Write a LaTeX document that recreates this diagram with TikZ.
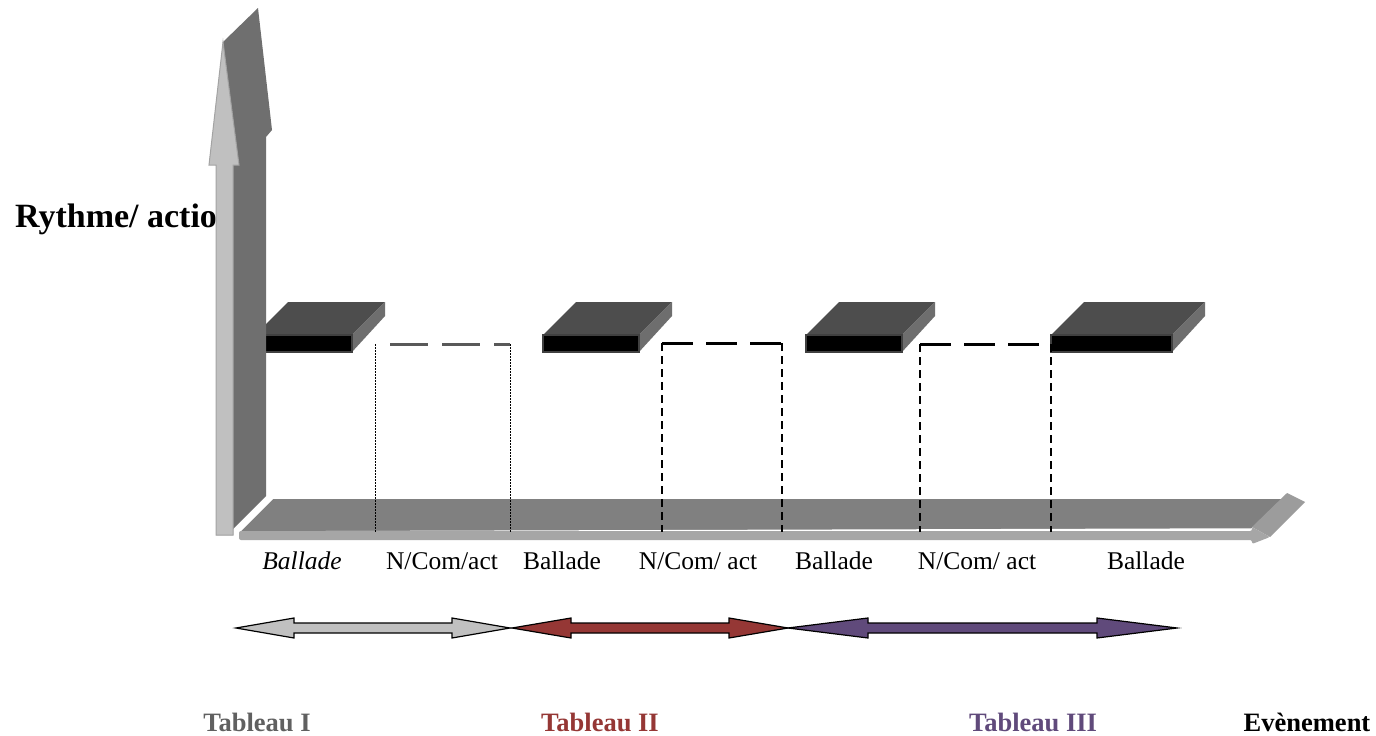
\documentclass[tikz,border=0pt]{standalone}
\usepackage{fontspec}
\setmainfont{Liberation Serif}
\definecolor{barlight}{HTML}{C0C0C0}
\definecolor{baredge}{HTML}{A3A3A3}
\definecolor{bardark}{HTML}{6F6F6F}
\definecolor{floorgray}{HTML}{808080}
\definecolor{stripgray}{HTML}{A6A6A6}
\definecolor{headgray}{HTML}{9C9C9C}
\definecolor{slabtop}{HTML}{4D4D4D}
\definecolor{slabside}{HTML}{6E6E6E}
\definecolor{tabgray}{HTML}{606060}
\definecolor{tabred}{HTML}{953735}
\definecolor{tabpurple}{HTML}{604A7B}
\definecolor{dashgray}{HTML}{595959}

% a flat 3D slab whose front face runs from x=#1 to x=#2
\newcommand{\slabat}[2]{%
  \fill[slabtop] (#1,335) -- (#1+33,302) -- (#2+33,302) -- (#2,335) -- cycle;
  \fill[slabside] (#2,335) -- (#2+33,302) -- (#2+33,316) -- (#2,352) -- cycle;
  \filldraw[fill=black, draw=black!75, line width=1.3] (#1,335) rectangle (#2,352);
}
% a double-headed block arrow from x=#1 to x=#2, head length #3, fill #4
\newcommand{\twoheadat}[4]{%
  \filldraw[fill=#4, draw=black, line width=1.2, line join=miter]
    (#1,628) -- (#1+#3,618) -- (#1+#3,623) -- (#2-#3,623) -- (#2-#3,618)
    -- (#2,628) -- (#2-#3,638) -- (#2-#3,633) -- (#1+#3,633) -- (#1+#3,638) -- cycle;
}

\begin{document}
\begin{tikzpicture}[x=1pt,y=-1pt,
  lbl/.style={font=\fontsize{25.5}{28}\selectfont, anchor=base},
  ttl/.style={font=\bfseries\fontsize{26.5}{30}\selectfont, anchor=base},
  thinvert/.style={black, line width=1.3, dash pattern=on 8pt off 5pt},
  dotvert/.style={black, line width=1, dash pattern=on 1.5pt off 1.5pt},
  thickdash/.style={line width=3, dash pattern=on 31pt off 13pt}]
\fill[white] (0,0) rectangle (1376,736);
\useasboundingbox (0,0) rectangle (1376,736);

% axis title, partly hidden by the vertical bar
\node[font=\bfseries\fontsize{34}{36}\selectfont, anchor=base west, inner sep=0] (ytitle) at (15,227) {Rythme/ action};

% first slab sits behind the vertical bar
\slabat{255}{352}

% vertical 3D arrow: dark extrusion, then light front
\fill[bardark] (223,42) -- (258,8) -- (272,130) -- (266,137) -- (266,496) -- (233,529) -- (233,535) -- (216,535) -- cycle;
\filldraw[fill=barlight, draw=baredge, line width=1, line join=miter]
  (216,535) -- (216,165) -- (209,165) -- (223,42) -- (239,165) -- (233,165) -- (233,535) -- cycle;

% horizontal 3D arrow (floor)
\filldraw[fill=floorgray, draw=white, line width=1.5] (239,532) -- (273,498) -- (1284,498) -- (1252,529) -- cycle;
\fill[headgray] (1252,527) -- (1287,493) -- (1305,502) -- (1270,537) -- cycle;
\fill[stripgray, rounded corners=2] (239,531) -- (1252,531) -- (1252,527) -- (1270,537) -- (1252,544) -- (1252,540) -- (239,540) -- cycle;

% remaining slabs
\slabat{543}{639}
\slabat{806}{902}
\slabat{1051}{1172}

% level guides between the slabs
\coordinate (a1) at (375,344); \coordinate (a2) at (510,344);
\coordinate (b1) at (662,343); \coordinate (b2) at (782,343);
\coordinate (c1) at (920,344); \coordinate (c2) at (1051,344);
\coordinate (a1f) at (375,532); \coordinate (a2f) at (510,532);
\coordinate (b1f) at (662,532); \coordinate (b2f) at (782,532);
\coordinate (c1f) at (920,532); \coordinate (c2f) at (1051,532);
\coordinate (a0) at (390,344);

\draw[dashgray, line width=3, dash pattern=on 38pt off 14pt] (a0) -- (a2);
\draw[dotvert] (a1) -- (a1f);
\draw[dotvert] (a2) -- (a2f);
\draw[thickdash] (b1) -- (b2);
\draw[thinvert] (b1) -- (b1f);
\draw[thinvert] (b2) -- (b2f);
\draw[thickdash] (c1) -- (c2);
\draw[thinvert] (c1) -- (c1f);
\draw[thinvert] (c2) -- (c2f);

% phase labels under the floor
\node[lbl, font=\itshape\fontsize{25.5}{28}\selectfont] (p1) at (302,569) {Ballade};
\node[lbl] (p2) at (442,569) {N/Com/act};
\node[lbl] (p3) at (562,569) {Ballade};
\node[lbl] (p4) at (698,569) {N/Com/ act};
\node[lbl] (p5) at (834,569) {Ballade};
\node[lbl] (p6) at (977,569) {N/Com/ act};
\node[lbl] (p7) at (1146,569) {Ballade};

% tableau spans
\twoheadat{236}{510}{58}{barlight}
\twoheadat{512}{788}{59}{tabred}
\twoheadat{788}{1177}{80}{tabpurple}

% tableau titles
\node[ttl, text=tabgray] (t1) at (257,731) {Tableau I};
\node[ttl, text=tabred] (t2) at (600,731) {Tableau II};
\node[ttl, text=tabpurple] (t3) at (1033,731) {Tableau III};
\node[ttl] (ev) at (1307,731) {Evènement};
\end{tikzpicture}
\end{document}
